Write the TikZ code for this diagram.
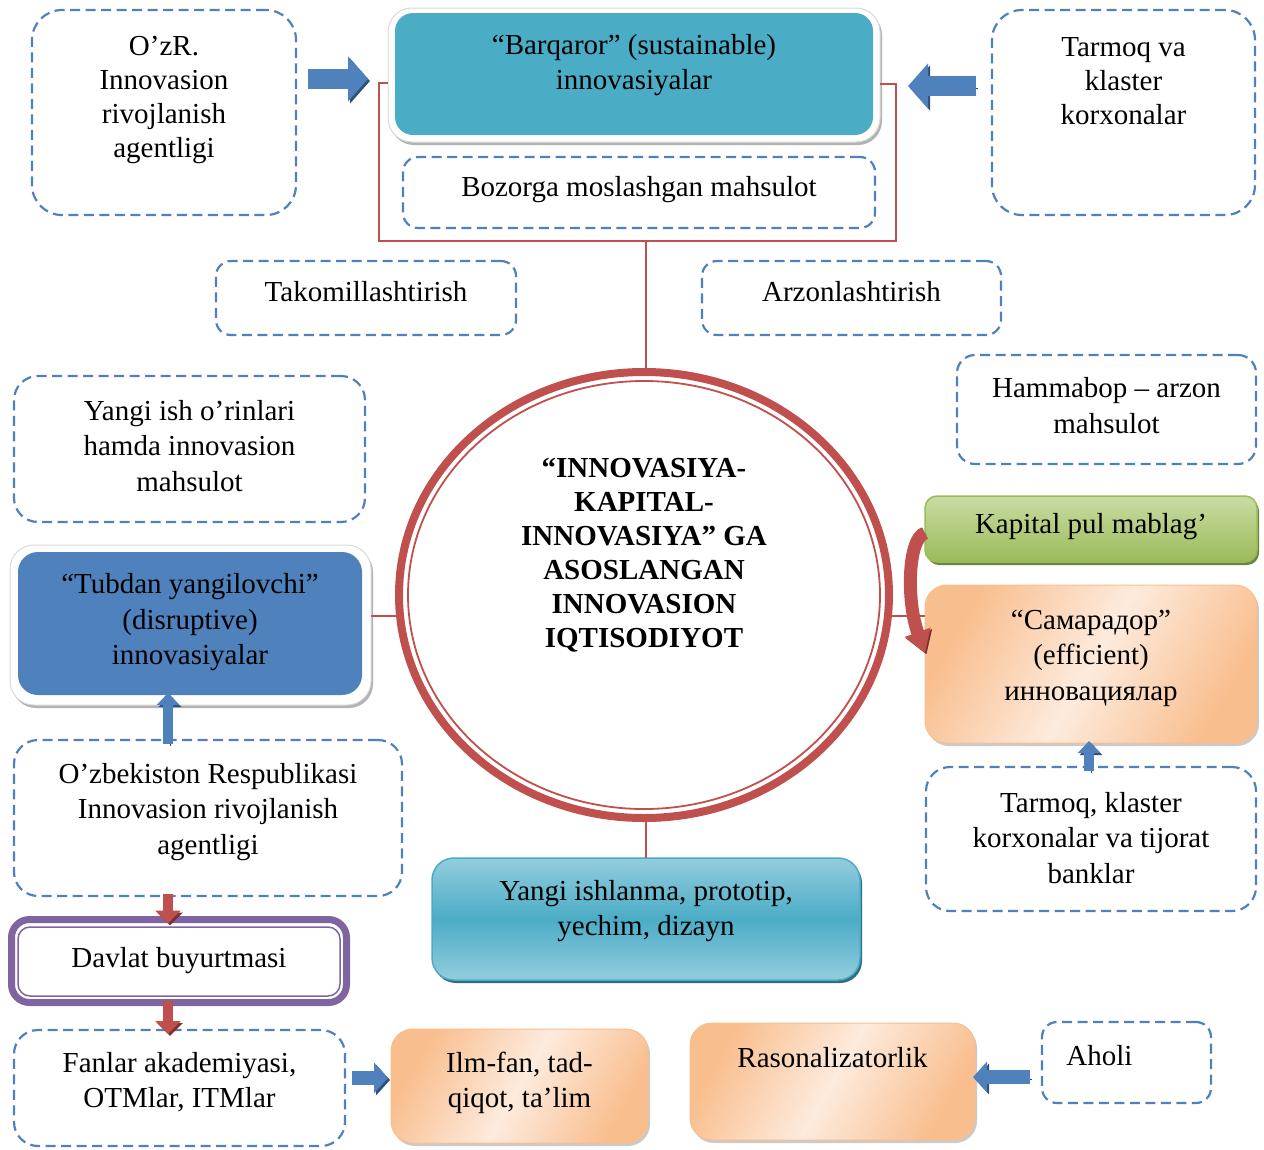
\documentclass[tikz,border=0pt]{standalone}
\usepackage{fontspec}
\setmainfont{Liberation Serif}
\usetikzlibrary{shapes.geometric,arrows.meta,shadows}
\definecolor{dblue}{HTML}{4F81BD}
\definecolor{dblueD}{HTML}{2F4F7A}
\definecolor{teal1}{HTML}{4BACC6}
\definecolor{tealL}{HTML}{93CDDD}
\definecolor{tealD}{HTML}{2B6F82}
\definecolor{rd}{HTML}{C0504D}
\definecolor{rdD}{HTML}{7F2F2D}
\definecolor{grL}{HTML}{C9DCA3}
\definecolor{grD}{HTML}{9BBB59}
\definecolor{grE}{HTML}{5F7530}
\definecolor{orD}{HTML}{F9BE8E}
\definecolor{orL}{HTML}{FDEBDD}
\definecolor{pu}{HTML}{8064A2}
\newcommand\fs{\fontsize{29}{35.5}\selectfont}
\tikzset{
  base/.style={inner sep=0pt, outer sep=0pt, align=center, font=\fs},
  lbl/.style={inner sep=0pt, align=center, font=\fs},
  dbox/.style={base, rectangle, draw=dblue, line width=2.2pt, dash pattern=on 10pt off 5.5pt, rounded corners=24pt},
  shd/.style={drop shadow={shadow xshift=2pt, shadow yshift=-3pt, opacity=0.3, fill=black}},
  framebox/.style={base, rectangle, fill=white, draw=black!15, line width=1pt, rounded corners=24pt, shd},
  tealbox/.style={base, rectangle, fill=teal1, rounded corners=18pt},
  bluebox/.style={base, rectangle, fill=dblue, rounded corners=20pt},
  orbox/.style={base, rectangle, left color=orD, right color=orD, middle color=orL, shading angle=60, draw=orD, line width=1pt, rounded corners=22pt, drop shadow={shadow xshift=2pt, shadow yshift=-3pt, opacity=0.35, fill=black!60}},
  grbox/.style={base, rectangle, top color=grL, bottom color=grD, draw=grD, line width=1.5pt, rounded corners=12pt, drop shadow={shadow xshift=2pt, shadow yshift=-3pt, fill=grE, opacity=0.9}},
  yangbox/.style={base, rectangle, top color=tealL, bottom color=tealL, middle color=teal1, draw=teal1, line width=1.5pt, rounded corners=22pt, drop shadow={shadow xshift=2pt, shadow yshift=-3pt, fill=tealD, opacity=1}},
  redline/.style={draw=rd, line width=2.2pt},
  barrowL/.style={draw=dblue, line width=20pt, -{Triangle[width=44pt,length=20pt]}, preaction={draw=dblueD, transform canvas={shift={(2pt,-2pt)}}}},
  barrowM/.style={draw=dblue, line width=14pt, -{Triangle[width=30pt,length=14pt]}, preaction={draw=dblueD, transform canvas={shift={(2pt,-2pt)}}}},
  barrowS/.style={draw=dblue, line width=10pt, -{Triangle[width=22pt,length=12pt]}, preaction={draw=dblueD, transform canvas={shift={(2pt,-2pt)}}}},
  rarrowS/.style={draw=rd, line width=10pt, -{Triangle[width=25pt,length=13pt]}, preaction={draw=rdD, transform canvas={shift={(2pt,-2pt)}}}},
  cred/.style={draw=rd, line width=13pt, -{Triangle[width=26pt,length=22pt]}, preaction={draw=rdD, transform canvas={shift={(1.5pt,-1.5pt)}}}},
}
\begin{document}
\begin{tikzpicture}[x=1pt,y=-1pt]
\useasboundingbox (0,0) rectangle (1264,1149);

% top row
\node[dbox, minimum width=264pt, minimum height=205pt, rounded corners=30pt,
  label={[lbl, font=\fontsize{29}{34}\selectfont, yshift=13pt]center:{O’zR.\\Innovasion\\rivojlanish\\agentligi}}] (tl) at (164,112.5) {};
\node[framebox, minimum width=492pt, minimum height=134pt] (bqf) at (634,75) {};
\node[tealbox, minimum width=478pt, minimum height=122pt,
  label={[lbl, yshift=9pt]center:{“Barqaror” (sustainable)\\innovasiyalar}}] (bq) at (634,74) {};
\node[dbox, minimum width=472pt, minimum height=71pt, rounded corners=15pt,
  label={[lbl, yshift=3pt]center:{Bozorga moslashgan mahsulot}}] (boz) at (639,192.5) {};
\node[dbox, minimum width=263pt, minimum height=205pt, rounded corners=30pt,
  label={[lbl, font=\fontsize{29}{34}\selectfont, yshift=31pt]center:{Tarmoq va\\klaster\\korxonalar}}] (tr) at (1123.5,112.5) {};

\node[dbox, minimum width=300pt, minimum height=74pt, rounded corners=15pt,
  label={[lbl, yshift=6pt]center:{Takomillashtirish}}] (tak) at (366,298) {};
\node[dbox, minimum width=299pt, minimum height=74pt, rounded corners=15pt,
  label={[lbl, yshift=6pt]center:{Arzonlashtirish}}] (arz) at (851.5,298) {};
\node[dbox, minimum width=299pt, minimum height=109pt, rounded corners=18pt,
  label={[lbl, yshift=4pt]center:{Hammabop – arzon\\mahsulot}}] (ham) at (1106.5,409.5) {};
\node[dbox, minimum width=351pt, minimum height=146pt,
  label={[lbl, yshift=3pt]center:{Yangi ish o’rinlari\\hamda innovasion\\mahsulot}}] (yis) at (189.5,449) {};

% centre
\node[ellipse, draw=rd, line width=8pt, fill=white, minimum width=490pt, minimum height=446pt, inner sep=0pt, outer sep=0pt,
  label={[lbl, font=\fontsize{29}{34}\selectfont\bfseries, yshift=40pt]center:{“INNOVASIYA-\\KAPITAL-\\INNOVASIYA” GA\\ASOSLANGAN\\INNOVASION\\IQTISODIYOT}}] (circ) at (644,595) {};
\draw[rd, line width=1.8pt] (circ.center) ellipse [x radius=236, y radius=214];

% left side
\node[framebox, minimum width=361pt, minimum height=160pt] (tubf) at (190.5,625) {};
\node[bluebox, minimum width=344pt, minimum height=143pt,
  label={[lbl, yshift=1pt]center:{“Tubdan yangilovchi”\\(disruptive)\\innovasiyalar}}] (tub) at (190,623.5) {};
\node[dbox, minimum width=388pt, minimum height=156pt,
  label={[lbl, yshift=6pt]center:{O’zbekiston Respublikasi\\Innovasion rivojlanish\\agentligi}}] (uzr) at (208,818) {};
\node[base, draw=pu, line width=7pt, fill=white, rounded corners=18pt, minimum width=335pt, minimum height=83pt] (dav) at (179,961) {};
\node[base, draw=pu, line width=1.5pt, rounded corners=12pt, minimum width=322pt, minimum height=69pt,
  label={[lbl, yshift=1pt]center:{Davlat buyurtmasi}}] (davi) at (179,961.5) {};
\node[dbox, minimum width=331pt, minimum height=116pt,
  label={[lbl, yshift=6pt]center:{Fanlar akademiyasi,\\OTMlar, ITMlar}}] (fan) at (179.5,1088) {};

% right side
\node[grbox, minimum width=332pt, minimum height=66pt,
  label={[lbl, yshift=2pt]center:{Kapital pul mablag’}}] (kap) at (1091,529) {};
\node[orbox, minimum width=332pt, minimum height=158pt,
  label={[lbl, yshift=6pt]center:{“Самарадор”\\(efficient)\\инновациялар}}] (sam) at (1091,664) {};
\node[dbox, minimum width=330pt, minimum height=144pt,
  label={[lbl, yshift=1pt]center:{Tarmoq, klaster\\korxonalar va tijorat\\banklar}}] (tkb) at (1091,839) {};

% bottom
\node[yangbox, minimum width=428pt, minimum height=122pt,
  label={[lbl, yshift=8pt]center:{Yangi ishlanma, prototip,\\yechim, dizayn}}] (yang) at (646,919) {};
\node[orbox, minimum width=257pt, minimum height=114pt,
  label={[lbl, yshift=3pt]center:{Ilm-fan, tad-\\qiqot, ta’lim}}] (ilm) at (519.5,1086) {};
\node[orbox, minimum width=285pt, minimum height=117pt,
  label={[lbl, yshift=24pt]center:{Rasonalizatorlik}}] (ras) at (832.5,1081.5) {};
\node[dbox, minimum width=169pt, minimum height=81pt, rounded corners=15pt,
  label={[lbl, xshift=-27pt, yshift=7pt]center:{Aholi}}] (aho) at (1126.5,1062.5) {};

% red connectors
\coordinate (bl) at (379,241);
\coordinate (br) at (896,241);
\coordinate (bm) at (646,241);
\draw[redline] (bqf.west |- 0,83) -| (bl) -- (br) |- (bqf.east |- 0,84);
\draw[redline] (bm) -- (bm |- circ.north);
\draw[redline] (circ.185) -- (circ.185 -| tubf.east);
\draw[redline] (circ.-5) -- (circ.-5 -| sam.west);
\draw[redline] (circ.south -| yang.north) -- (yang.north);

% block arrows
\draw[barrowL, shorten <=12pt, shorten >=20pt] (tl.east |- 0,79) -- (bqf.west |- 0,79);
\draw[barrowL, shorten <=16pt, shorten >=28pt] (tr.west |- 0,86) -- (bqf.east |- 0,86);
\draw[barrowS, shorten <=-4pt, shorten >=-2pt] (uzr.north -| 168,0) -- (tub.south -| 168,0);
\draw[barrowS, shorten <=-4pt, shorten >=-2pt] (tkb.north -| 1089,0) -- (sam.south -| 1089,0);
\draw[rarrowS, shorten <=-2pt, shorten >=-4pt] (uzr.south -| 168,0) -- (dav.north -| 168,0);
\draw[rarrowS, shorten <=-2pt, shorten >=-4pt] (dav.south -| 168,0) -- (fan.north -| 168,0);
\draw[barrowM, shorten <=7pt, shorten >=3pt] (fan.east |- 0,1078) -- (ilm.west |- 0,1078);
\draw[barrowM, shorten <=12pt, shorten >=-2pt] (aho.west |- 0,1077) -- (ras.east |- 0,1077);
\draw[cred] ([yshift=-4pt]kap.west) .. controls (908,538) and (906,600) .. ([yshift=11pt]sam.west);
\end{tikzpicture}
\end{document}
